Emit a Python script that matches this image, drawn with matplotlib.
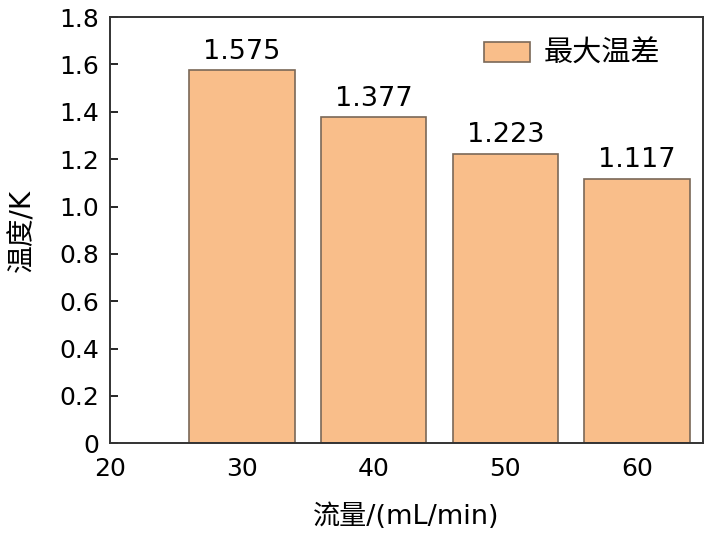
import matplotlib.pyplot as plt
from matplotlib.ticker import FuncFormatter

plt.rcParams['font.family'] = ['DejaVu Sans', 'Noto Sans CJK SC']

flow = [30, 40, 50, 60]
max_dt = [1.575, 1.377, 1.223, 1.117]
labels = ["1.575", "1.377", "1.223", "1.117"]

fig = plt.figure(figsize=(7.12, 5.36), dpi=100)
ax = fig.add_axes([0.155, 0.173, 0.832, 0.795])

ax.bar(flow, max_dt, width=8, color="#F9BE8A", edgecolor="#7a6858", linewidth=1.2, label="最大温差")
for x, y, s in zip(flow, max_dt, labels):
    ax.annotate(s, (x, y), xytext=(0, 4), textcoords="offset points",
                ha="center", va="bottom", fontsize=19.5)

ax.set_xlim(20, 65)
ax.set_ylim(0, 1.8)
ax.set_xticks([20, 30, 40, 50, 60])
ax.set_yticks([0, 0.2, 0.4, 0.6, 0.8, 1.0, 1.2, 1.4, 1.6, 1.8])
ax.yaxis.set_major_formatter(FuncFormatter(lambda v, p: "0" if v == 0 else f"{v:.1f}"))
ax.tick_params(axis="y", direction="in", length=6, width=1.2, labelsize=18, pad=8)
ax.tick_params(axis="x", length=0, labelsize=18, pad=10)
for sp in ax.spines.values():
    sp.set_linewidth(1.4)
    sp.set_color("#333333")

ax.set_xlabel("流量/(mL/min)", fontsize=19.5)
ax.xaxis.set_label_coords(0.5, -0.141)
ax.set_ylabel("温度/K", fontsize=20)
ax.yaxis.set_label_coords(-0.125, 0.5)

ax.legend(loc="center left", bbox_to_anchor=(0.63, 0.913), frameon=False, fontsize=21,
          handlelength=1.6, handleheight=0.72, handletextpad=0.45,
          borderpad=0, borderaxespad=0)

fig.savefig("out.png", dpi=100)
